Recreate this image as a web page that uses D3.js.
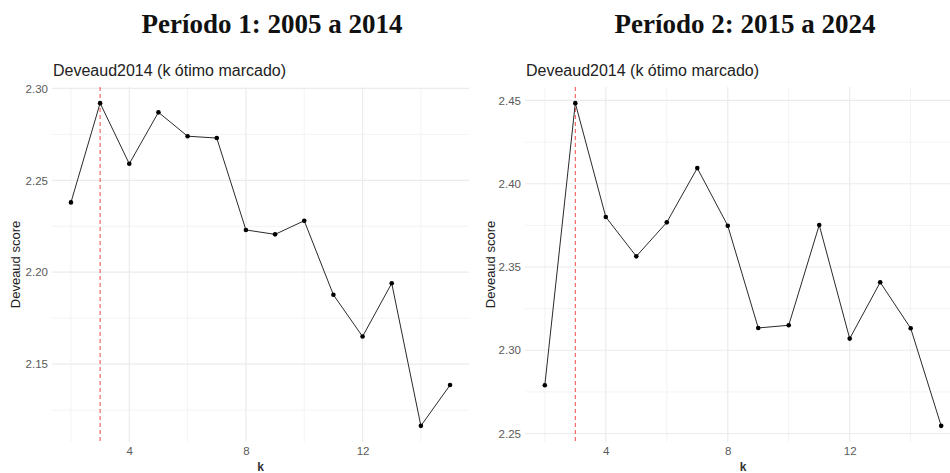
<!DOCTYPE html>
<html>
<head>
<meta charset="utf-8">
<script src="https://cdn.jsdelivr.net/npm/d3@7"></script>
<style>
  html, body { margin: 0; padding: 0; background: #fff; }
  svg { display: block; }
</style>
</head>
<body>
<svg id="chart" width="950" height="473"></svg>
<script>
// ---- Data ----
const kValues = [2, 3, 4, 5, 6, 7, 8, 9, 10, 11, 12, 13, 14, 15];
const scoresPeriod1 = [2.238, 2.292, 2.259, 2.287, 2.274, 2.273, 2.223, 2.2206, 2.228, 2.1877, 2.165, 2.194, 2.1164, 2.1386];
const scoresPeriod2 = [2.279, 2.4484, 2.380, 2.3564, 2.3768, 2.4094, 2.3748, 2.3134, 2.315, 2.3752, 2.307, 2.3408, 2.3132, 2.2546];
const optimalK = [3, 3];
const periodTitles = ["Período 1: 2005 a 2014", "Período 2: 2015 a 2024"];
const subTitle = "Deveaud2014 (k ótimo marcado)";
const yLabel = "Deveaud score";
const xLabel = "k";
const xMajorTicks = [4, 8, 12];
const xMinorTicks = [2, 6, 10, 14];
const yMajorTicks1 = [2.15, 2.20, 2.25, 2.30];
const yMinorTicks1 = [2.125, 2.175, 2.225, 2.275];
const yMajorTicks2 = [2.25, 2.30, 2.35, 2.40, 2.45];
const yMinorTicks2 = [2.275, 2.325, 2.375, 2.425];

const svg = d3.select("#chart");

function expand(ext, mult) {
  const d = (ext[1] - ext[0]) * mult;
  return [ext[0] - d, ext[1] + d];
}

function drawPanel(cfg) {
  const g = svg.append("g");
  const x = d3.scaleLinear().domain(expand(d3.extent(kValues), 0.05)).range([cfg.left, cfg.right]);
  const y = d3.scaleLinear().domain(expand(d3.extent(cfg.values), 0.05)).range([cfg.bottom, cfg.top]);

  // big title
  g.append("text")
    .attr("x", cfg.titleX).attr("y", 33)
    .attr("text-anchor", "middle")
    .attr("font-family", "'Liberation Serif', 'Times New Roman', serif")
    .attr("font-weight", "bold")
    .attr("font-size", 27)
    .attr("fill", "#111")
    .text(cfg.title);

  // subtitle
  g.append("text")
    .attr("x", cfg.left + 1).attr("y", 76)
    .attr("font-family", "'Liberation Sans', Arial, sans-serif")
    .attr("font-size", 16)
    .attr("fill", "#222")
    .text(subTitle);

  // minor grid
  g.append("g").selectAll("line.ymin").data(cfg.yMinor).join("line")
    .attr("x1", cfg.left).attr("x2", cfg.right)
    .attr("y1", d => y(d)).attr("y2", d => y(d))
    .attr("stroke", "#f3f3f3").attr("stroke-width", 1);
  g.append("g").selectAll("line.xmin").data(xMinorTicks).join("line")
    .attr("x1", d => x(d)).attr("x2", d => x(d))
    .attr("y1", cfg.top).attr("y2", cfg.bottom)
    .attr("stroke", "#f3f3f3").attr("stroke-width", 1);
  // major grid
  g.append("g").selectAll("line.ymaj").data(cfg.yMajor).join("line")
    .attr("x1", cfg.left).attr("x2", cfg.right)
    .attr("y1", d => y(d)).attr("y2", d => y(d))
    .attr("stroke", "#ebebeb").attr("stroke-width", 1.2);
  g.append("g").selectAll("line.xmaj").data(xMajorTicks).join("line")
    .attr("x1", d => x(d)).attr("x2", d => x(d))
    .attr("y1", cfg.top).attr("y2", cfg.bottom)
    .attr("stroke", "#ebebeb").attr("stroke-width", 1.2);

  // axes (labels only)
  const yAxis = d3.axisLeft(y).tickValues(cfg.yMajor).tickFormat(d3.format(".2f")).tickSize(0).tickPadding(4);
  const ya = g.append("g").attr("transform", `translate(${cfg.left},0)`).call(yAxis);
  ya.select(".domain").remove();
  ya.selectAll("text").attr("font-family", "'Liberation Sans', Arial, sans-serif")
    .attr("font-size", 11.5).attr("fill", "#5a5a5a");

  const xAxis = d3.axisBottom(x).tickValues(xMajorTicks).tickFormat(d3.format("d")).tickSize(0).tickPadding(5);
  const xa = g.append("g").attr("transform", `translate(0,${cfg.bottom})`).call(xAxis);
  xa.select(".domain").remove();
  xa.selectAll("text").attr("font-family", "'Liberation Sans', Arial, sans-serif")
    .attr("font-size", 11.5).attr("fill", "#5a5a5a");

  // axis titles
  g.append("text")
    .attr("x", (cfg.left + cfg.right) / 2).attr("y", 471)
    .attr("text-anchor", "middle")
    .attr("font-family", "'Liberation Sans', Arial, sans-serif")
    .attr("font-size", 12)
    .attr("font-weight", "bold")
    .attr("fill", "#333")
    .text(xLabel);
  g.append("text")
    .attr("transform", `translate(${cfg.yLabelX},${(cfg.top + cfg.bottom) / 2}) rotate(-90)`)
    .attr("text-anchor", "middle")
    .attr("dominant-baseline", "central")
    .attr("font-family", "'Liberation Sans', Arial, sans-serif")
    .attr("font-size", 13)
    .attr("fill", "#222")
    .text(yLabel);

  // optimal k line
  g.append("line")
    .attr("x1", x(cfg.optK)).attr("x2", x(cfg.optK))
    .attr("y1", cfg.top).attr("y2", cfg.bottom)
    .attr("stroke", "#ee2a2a").attr("stroke-width", 1)
    .attr("stroke-dasharray", "4,3")
    .attr("stroke-opacity", 0.85);

  const pts = kValues.map((k, i) => ({ k, v: cfg.values[i] }));
  g.append("path").datum(pts)
    .attr("fill", "none").attr("stroke", "#2a2a2a").attr("stroke-width", 1)
    .attr("d", d3.line().x(d => x(d.k)).y(d => y(d.v)));
  g.append("g").selectAll("circle").data(pts).join("circle")
    .attr("cx", d => x(d.k)).attr("cy", d => y(d.v))
    .attr("r", 2.3).attr("fill", "#000");
}

drawPanel({
  left: 52, right: 469, top: 87, bottom: 442,
  values: scoresPeriod1, optK: optimalK[0],
  yMajor: yMajorTicks1, yMinor: yMinorTicks1,
  title: periodTitles[0], titleX: 272, yLabelX: 15
});
drawPanel({
  left: 525, right: 961, top: 87, bottom: 442,
  values: scoresPeriod2, optK: optimalK[1],
  yMajor: yMajorTicks2, yMinor: yMinorTicks2,
  title: periodTitles[1], titleX: 745, yLabelX: 490
});
</script>
</body>
</html>
